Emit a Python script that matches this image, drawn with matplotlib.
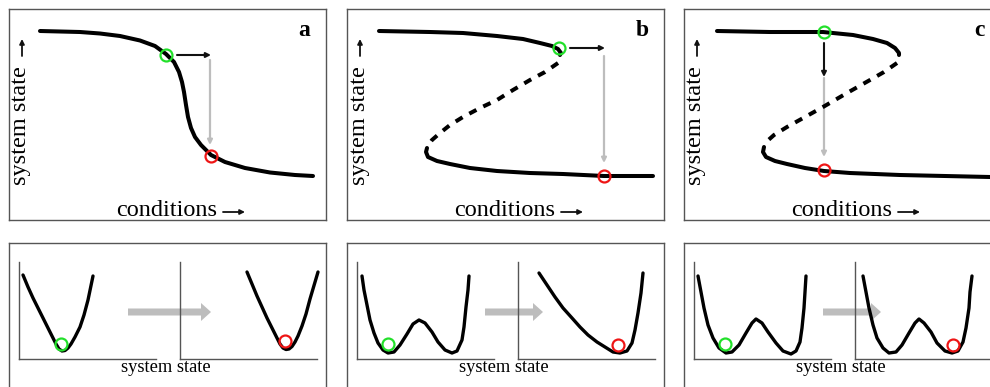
import matplotlib
matplotlib.use("Agg")
import matplotlib.pyplot as plt

plt.rcParams["font.family"] = ["Liberation Serif", "DejaVu Serif"]

FIG_W, FIG_H = 990, 387
BOX_W = 317
BOX_LEFTS = [9, 347, 684]
PANEL_TAGS = ["a", "b", "c"]

# --- top row: equilibrium state vs conditions -------------------------------
# panel a: smooth but steep response
A_COND = [31, 51, 71, 91, 111, 131, 146, 157, 165, 170, 173, 175, 177, 179,
          182, 186, 192, 202, 216, 236, 261, 286, 304]
A_STATE = [189, 188.5, 188, 186.5, 184, 179.5, 174, 166, 158, 148, 138, 128,
           115, 103, 92, 83, 75, 65, 58, 52, 47.5, 45, 44]

# panel b / c: folded response (stable branches solid, unstable dashed)
B_UPPER_COND = [32, 83, 116, 150, 176, 193, 205, 211, 214, 213]
B_UPPER_STATE = [189, 188, 187, 184, 181, 177, 174, 171, 167, 165]
B_MIDDLE_COND = [211, 198, 183, 166, 150, 133, 116, 103, 93, 85, 80]
B_MIDDLE_STATE = [157, 148, 140, 130, 120, 112, 103, 95, 87, 80, 73]
B_LOWER_COND = [80, 79, 81, 90, 103, 123, 150, 183, 216, 257, 306]
B_LOWER_STATE = [72, 68, 63, 59, 56, 52, 49, 47, 46, 44, 44]

C_UPPER_COND = [33, 86, 139, 169, 189, 203, 211, 215, 215]
C_UPPER_STATE = [189, 188, 188, 185, 181, 177, 172, 167, 165]
C_MIDDLE_COND = [213, 200, 186, 163, 139, 121, 103, 90, 81]
C_MIDDLE_STATE = [157, 148, 140, 127, 113, 103, 93, 85, 77]
C_LOWER_COND = [80, 79, 82, 91, 103, 121, 140, 166, 216, 306]
C_LOWER_STATE = [73, 68, 63, 59, 56, 52, 49, 47, 45, 43]

# start (green) and end (red) states
START_POINTS = [(157, 165), (212, 172), (140, 188)]
END_POINTS = [(202, 64), (257, 44), (140, 50)]
# black shift in conditions / perturbation, grey collapse
PUSH_ARROWS = [((168, 165), (202, 165)), ((223, 172), (258, 172)), ((140, 177), (140, 143))]
DROP_ARROWS = [((201, 160), (201, 75)), ((257, 164), (257, 57)), ((140, 142), (140, 63))]

# --- bottom row: stability landscapes ---------------------------------------
A_BEFORE_X = [4, 9, 14, 19, 24, 29, 34, 37, 40, 43, 46, 49, 52, 56, 61, 65, 69, 74]
A_BEFORE_Y = [84, 72, 61, 51, 41, 31, 21, 15, 10, 8, 8.5, 11, 15, 22, 32, 44, 59, 83]
A_AFTER_X = [67, 72, 77, 82, 87, 92, 97, 100, 103, 106, 109, 112, 115, 118,
             122, 126, 130, 138]
A_AFTER_Y = [87, 75, 63, 52, 41, 31, 21, 15, 11, 9.5, 10, 12.5, 17, 23,
             33, 45, 60, 87]

B_BEFORE_X = [5, 7, 10, 13, 17, 21, 26, 31, 37, 43, 50, 56, 62, 68, 75, 81,
              88, 95, 100, 105, 107, 109, 111, 112]
B_BEFORE_Y = [83, 69, 54, 39, 26, 16, 9, 6, 7, 14, 25, 35, 39, 36, 27, 17,
              9, 6, 8, 19, 32, 52, 69, 83]
B_AFTER_X = [21, 29, 37, 45, 54, 62, 70, 79, 87, 95, 102, 109, 114, 117, 120, 123, 125]
B_AFTER_Y = [86, 74, 62, 51, 41, 32, 24, 17, 12, 7, 6, 8, 16, 29, 46, 66, 86]

C_BEFORE_X = [4, 7, 10, 14, 19, 25, 32, 38, 45, 52, 58, 62, 68, 74, 82, 89,
              97, 102, 106, 108, 110, 111, 112]
C_BEFORE_Y = [83, 67, 51, 34, 21, 11, 6, 7, 14, 26, 36, 40, 36, 27, 16, 8,
              5, 8, 17, 31, 51, 67, 83]
C_AFTER_X = [8, 11, 14, 18, 22, 28, 34, 41, 47, 54, 60, 64, 69, 76, 82, 90,
             97, 103, 108, 111, 114, 115, 117]
C_AFTER_Y = [83, 67, 51, 34, 21, 11, 6, 7, 14, 26, 36, 40, 36, 27, 16, 8,
             6, 8, 17, 31, 51, 67, 83]

BALL_BEFORE = [(42, 15), (31, 15), (31, 15)]
BALL_AFTER = [(105, 18), (100, 14), (98, 14)]
SHIFT_ARROWS = [(119, 202), (138, 196), (139, 197)]

GREEN = "#22e02a"
RED = "#ee1515"
GREY = "#bdbdbd"
FRAME = "#555555"


def px_axes(fig, left, top, width, height):
    return fig.add_axes([left / FIG_W, (FIG_H - top - height) / FIG_H,
                         width / FIG_W, height / FIG_H])


def style_box(ax):
    ax.set_xticks([])
    ax.set_yticks([])
    for s in ax.spines.values():
        s.set_color(FRAME)
        s.set_linewidth(1.0)


def ring(ax, xy, color):
    ax.plot([xy[0]], [xy[1]], "o", ms=8.6, mfc="none", mec=color, mew=1.6,
            zorder=5, clip_on=False)


def thin_arrow(ax, start, end, color, lw=1.5, z=4):
    ax.annotate("", xy=end, xytext=start,
                arrowprops=dict(arrowstyle="-|>", color=color, lw=lw,
                                mutation_scale=7, shrinkA=0, shrinkB=0), zorder=z)


fig = plt.figure(figsize=(FIG_W / 100, FIG_H / 100), dpi=100)

curve_kw = dict(color="black", lw=2.9, solid_capstyle="round",
                solid_joinstyle="round", zorder=3)
dash_kw = dict(color="black", lw=2.9, linestyle=(0, (2.0, 1.9)), zorder=3)

top_axes = []
for left in BOX_LEFTS:
    ax = px_axes(fig, left, 9, BOX_W, 211)
    ax.set_xlim(0, BOX_W)
    ax.set_ylim(0, 211)
    style_box(ax)
    top_axes.append(ax)

top_axes[0].plot(A_COND, A_STATE, **curve_kw)

top_axes[1].plot(B_UPPER_COND, B_UPPER_STATE, **curve_kw)
top_axes[1].plot(B_MIDDLE_COND, B_MIDDLE_STATE, **dash_kw)
top_axes[1].plot(B_LOWER_COND, B_LOWER_STATE, **curve_kw)

top_axes[2].plot(C_UPPER_COND, C_UPPER_STATE, **curve_kw)
top_axes[2].plot(C_MIDDLE_COND, C_MIDDLE_STATE, **dash_kw)
top_axes[2].plot(C_LOWER_COND, C_LOWER_STATE, **curve_kw)

for i, ax in enumerate(top_axes):
    thin_arrow(ax, *DROP_ARROWS[i], GREY, lw=1.6, z=2)
    thin_arrow(ax, *PUSH_ARROWS[i], "#111111")
    ring(ax, START_POINTS[i], GREEN)
    ring(ax, END_POINTS[i], RED)

    # axis captions with their direction arrows
    ax.text(12, 94, "system state", rotation=90, ha="center", va="center",
            fontsize=17.5)
    thin_arrow(ax, (13, 164), (13, 181), "#111111", lw=1.3)
    ax.text(158, 4, "conditions", ha="center", va="baseline", fontsize=17.5)
    thin_arrow(ax, (214, 8), (236, 8), "#111111", lw=1.3)

    ax.text(295, 189, PANEL_TAGS[i], ha="center", va="center", fontsize=17,
            fontweight="bold")

# bottom row
wells = [
    ((A_BEFORE_X, A_BEFORE_Y), (A_AFTER_X, A_AFTER_Y)),
    ((B_BEFORE_X, B_BEFORE_Y), (B_AFTER_X, B_AFTER_Y)),
    ((C_BEFORE_X, C_BEFORE_Y), (C_AFTER_X, C_AFTER_Y)),
]
well_kw = dict(color="black", lw=2.4, solid_capstyle="round",
               solid_joinstyle="round", zorder=3, clip_on=False)

for i, left in enumerate(BOX_LEFTS):
    box = px_axes(fig, left, 243, BOX_W, 157)
    box.set_xlim(0, BOX_W)
    box.set_ylim(0, 157)
    style_box(box)
    x0, x1 = SHIFT_ARROWS[i]
    box.arrow(x0, 88, x1 - x0, 0, width=7, head_width=18, head_length=10,
              length_includes_head=True, color=GREY, lw=0)
    box.text(157, 33, "system state", ha="center", va="center", fontsize=13.3)

    for j, sub_left in enumerate([10, 171]):
        sub = px_axes(fig, left + sub_left, 262, 137, 97)
        sub.set_xlim(0, 137)
        sub.set_ylim(0, 97)
        sub.patch.set_visible(False)
        sub.set_xticks([])
        sub.set_yticks([])
        for side in ["top", "right"]:
            sub.spines[side].set_visible(False)
        for side in ["left", "bottom"]:
            sub.spines[side].set_color(FRAME)
            sub.spines[side].set_linewidth(1.0)
        xs, ys = wells[i][j]
        sub.plot(xs, ys, **well_kw)
        if j == 0:
            ring(sub, BALL_BEFORE[i], GREEN)
        else:
            ring(sub, BALL_AFTER[i], RED)

fig.savefig("out.png", dpi=100)
